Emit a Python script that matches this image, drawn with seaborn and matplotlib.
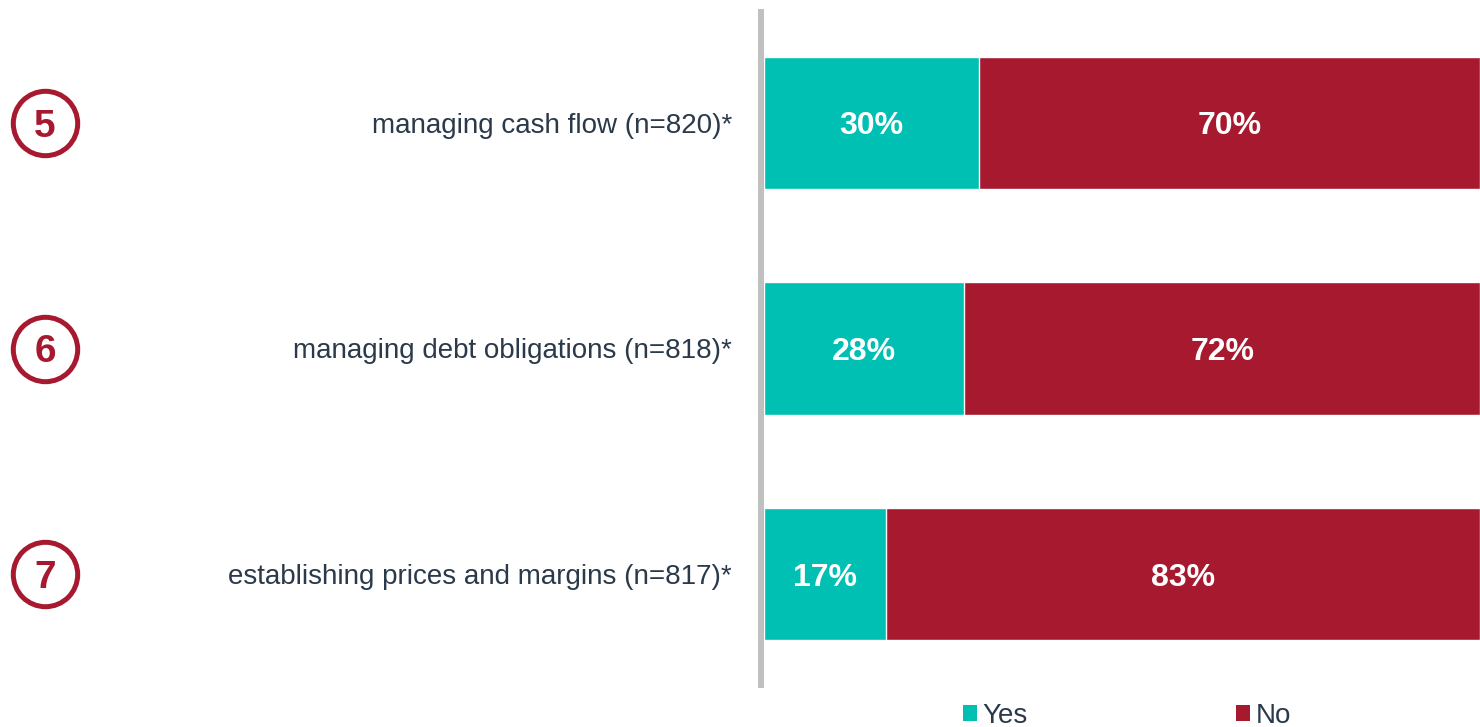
import matplotlib
matplotlib.use("Agg")
import matplotlib.pyplot as plt
import matplotlib.transforms as mtransforms
from matplotlib.patches import Patch
import pandas as pd
import seaborn as sns

categories = ["managing cash flow (n=820)*",
              "managing debt obligations (n=818)*",
              "establishing prices and margins (n=817)*"]
numbers = ["5", "6", "7"]
yes_pct = [30, 28, 17]
no_pct = [70, 72, 83]

teal = "#00BFB3"
red = "#A6192E"
text_col = "#2B3A4A"

df = pd.DataFrame({"cat": categories, "yes": yes_pct, "no": no_pct})
df["total"] = df["yes"] + df["no"]

sns.set_theme(style="white")
plt.rcParams["font.family"] = ["Liberation Sans", "DejaVu Sans"]

fig = plt.figure(figsize=(14.8, 7.27), dpi=100)
ax = fig.add_axes([764 / 1480, 40 / 727, 716 / 1480, 677 / 727])

# full bar in red, Yes part drawn over it in teal
sns.barplot(data=df, x="total", y="cat", orient="h", color=red, width=0.587,
            saturation=1, ax=ax, zorder=3)
sns.barplot(data=df, x="yes", y="cat", orient="h", color=teal, width=0.587,
            saturation=1, ax=ax, zorder=3)

for i, (y, n) in enumerate(zip(yes_pct, no_pct)):
    ax.text(y / 2, i, f"{y}%", ha="center", va="center_baseline", color="white",
            fontsize=23, fontweight="bold", zorder=4)
    ax.text(y + n / 2, i, f"{n}%", ha="center", va="center_baseline", color="white",
            fontsize=23, fontweight="bold", zorder=4)

ax.set_xlim(0, 100)
ax.set_ylim(2.5, -0.5)
ax.set_xlabel("")
ax.set_ylabel("")
ax.set_xticks([])
ax.tick_params(axis="y", length=0, pad=21, labelsize=20, labelcolor=text_col)
for s in ["top", "right", "bottom"]:
    ax.spines[s].set_visible(False)
ax.spines["left"].set_color("#C0C0C0")
ax.spines["left"].set_linewidth(4.3)
ax.spines["left"].set_position(("outward", 2.2))
ax.spines["left"].set_bounds(2.49, -0.49)

# numbered circles on the left
trans = mtransforms.blended_transform_factory(fig.transFigure, ax.transData)
for i, num in enumerate(numbers):
    ax.scatter([45 / 1480], [i], s=2150, marker="o", facecolors="white",
               edgecolors=red, linewidths=3.6, transform=trans, clip_on=False)
    ax.text(45 / 1480, i, num, transform=trans, ha="center", va="center_baseline",
            color=red, fontsize=28, fontweight="bold", clip_on=False)

handles = [Patch(facecolor=teal, edgecolor="none", label="Yes"),
           Patch(facecolor=red, edgecolor="none", label="No")]
leg = fig.legend(handles=handles, loc="center left",
                 bbox_to_anchor=(963 / 1480, 1 - 716 / 727), ncol=2,
                 frameon=False, fontsize=20, handlelength=0.5, handleheight=0.5,
                 handletextpad=0.2, columnspacing=7.5, borderpad=0,
                 borderaxespad=0)
for t in leg.get_texts():
    t.set_color(text_col)

fig.savefig("out.png", dpi=100)
